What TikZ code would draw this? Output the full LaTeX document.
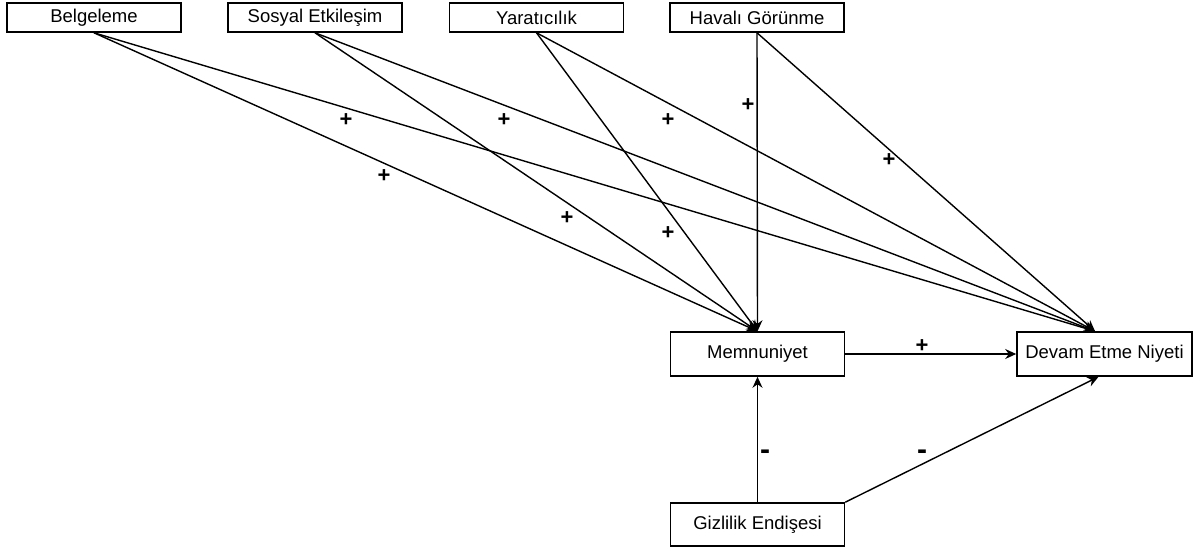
\documentclass[tikz,border=0pt]{standalone}
\usepackage{fontspec}
\setmainfont{Liberation Sans}
\usetikzlibrary{arrows.meta}

\begin{document}
\begin{tikzpicture}[x=1pt,y=-1pt]
	\tikzstyle{every node}+=[inner sep=0pt, font=\fontsize{18.5}{22}\selectfont]
	\tikzstyle{var}=[draw, line width=1.6pt, minimum width=174pt]
	\tikzstyle{topvar}=[var, minimum height=29pt]
	\tikzstyle{midvar}=[var, minimum height=44pt]
	\tikzstyle{sign}=[font=\fontsize{22}{22}\selectfont\bfseries]
	\tikzstyle{minus}=[font=\fontsize{30}{30}\selectfont\bfseries]
	\tikzstyle{link}=[line width=1.4pt, -{Stealth[length=11pt,width=10pt]}]
	\useasboundingbox (0,0) rectangle (1197,549);
	\node [topvar] (bel) at (94,17.5) {Belgeleme};
	\node [topvar] (sos) at (315,17.5) {Sosyal Etkileşim};
	\node [topvar] (yar) at (536.5,17.5) {Yaratıcılık};
	\node [topvar] (hav) at (757,17.5) {Havalı Görünme};
	\node [midvar] (mem) at (757.5,354) {Memnuniyet};
	\node [midvar, minimum width=175pt] (dev) at (1104.5,354) {Devam Etme Niyeti};
	\node [midvar, minimum height=43pt] (giz) at (757.5,524.5) {Gizlilik Endişesi};
	\coordinate (devin) at ([xshift=-9.5pt]dev.north);
	\foreach \v in {bel,sos,yar,hav} {
		\draw [link] (\v.south) -- (mem.north);
		\draw [link] (\v.south) -- (devin);
	}
	\draw [link] (mem) -- (dev);
	\draw [link] (giz) -- (mem);
	\draw [link] (giz.north east) -- ([xshift=-6pt]dev.south);
	\node [sign] (s1) at (346,120) {+};
	\node [sign] (s2) at (504,120) {+};
	\node [sign] (s3) at (668,120) {+};
	\node [sign] (s4) at (748,105) {+};
	\node [sign] (s5) at (889,160) {+};
	\node [sign] (s6) at (384,176) {+};
	\node [sign] (s7) at (567,218) {+};
	\node [sign] (s8) at (668,233) {+};
	\node [sign] (s9) at (922,346) {+};
	\node [minus] (n1) at (765,455) {-};
	\node [minus] (n2) at (922,455) {-};
\end{tikzpicture}
\end{document}
